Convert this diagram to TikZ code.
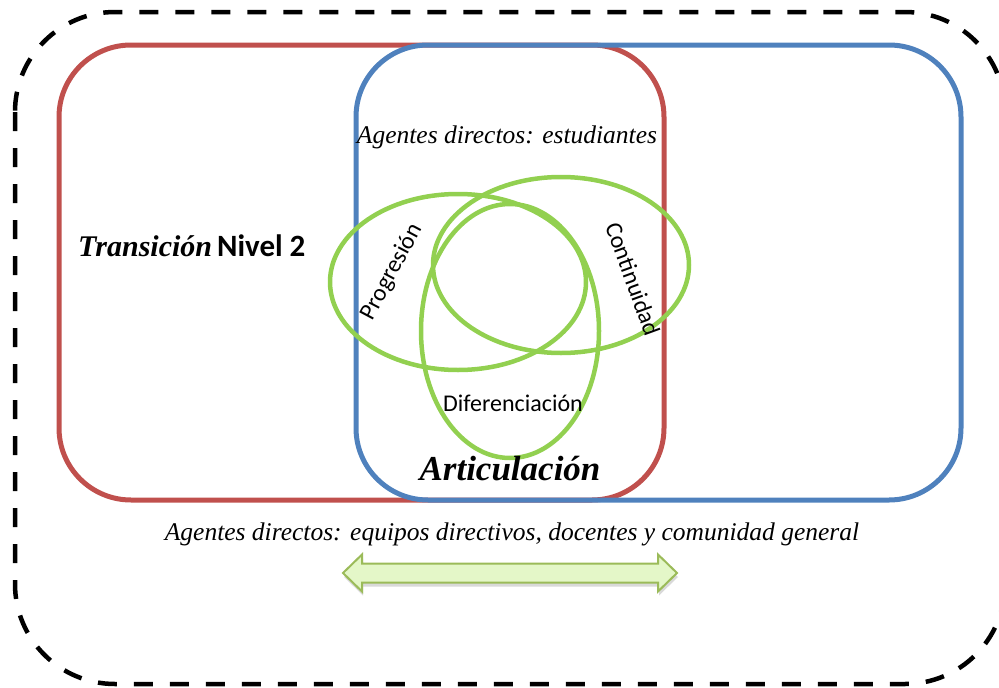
\documentclass[tikz,border=0pt]{standalone}
\usepackage{fontspec}
\setmainfont{Liberation Serif}
\newfontfamily\calib{Carlito}
\usetikzlibrary{shadows}
\definecolor{redbox}{RGB}{192,80,77}
\definecolor{bluebox}{RGB}{79,129,189}
\definecolor{greenring}{RGB}{146,208,80}
\definecolor{arrowborder}{RGB}{155,187,89}
\definecolor{arrowfill}{RGB}{228,247,200}
\tikzset{
  outerbox/.style={draw=black, line width=4.5pt, dash pattern=on 19pt off 17pt, rounded corners=100pt},
  bigbox/.style={line width=5pt, rounded corners=72pt},
  ring/.style={draw=greenring, line width=4.5pt},
  agentlabel/.style={font=\fontsize{25.5}{29}\selectfont\itshape, inner sep=0pt},
  ringlabel/.style={font=\calib\fontsize{24}{28}\selectfont, inner sep=0pt},
  titlelabel/.style={inner sep=0pt, anchor=west},
}
\begin{document}
\begin{tikzpicture}[x=1pt,y=-1pt]
\useasboundingbox (0,0) rectangle (999,688);
% outer dashed frame
\draw[outerbox] (15,12) rectangle (1005,684);
% red and blue boxes
\draw[bigbox, draw=redbox] (59,45) rectangle (664,500);
\draw[bigbox, draw=bluebox] (356,45) rectangle (961,500);
% green rings
\draw[ring] (458,282) ellipse [x radius=128, y radius=88];
\draw[ring] (561,265) ellipse [x radius=128, y radius=88];
\draw[ring] (510,331) ellipse [x radius=89, y radius=127];
% labels
\node[agentlabel] (est) at (507,137) {Agentes directos: estudiantes};
\node[agentlabel] (equ) at (512,534) {Agentes directos: equipos directivos, docentes y comunidad general};
\node[titlelabel] (trans) at (78,246) {{\fontsize{30}{34}\selectfont\bfseries\itshape Transición}\hspace{5pt}{\calib\fontsize{31}{34}\selectfont\bfseries Nivel 2}};
\node[inner sep=0pt, font=\fontsize{35}{40}\selectfont\bfseries\itshape] (art) at (510,469) {Articulación};
\node[ringlabel, rotate=62] (prog) at (392,272) {Progresión};
\node[ringlabel, rotate=-70] (cont) at (633,279) {Continuidad};
\node[ringlabel] (dif) at (513,403) {Diferenciación};
% double block arrow
\coordinate (lt) at (343,573);
\coordinate (rt) at (677,573);
\draw[draw=arrowborder, line width=2pt, fill=arrowfill, line join=miter,
      drop shadow={opacity=0.3, shadow xshift=1pt, shadow yshift=-4pt}]
  (lt) -- (362,554.5) -- (362,563.5) -- (658,563.5) -- (658,554.5) -- (rt)
  -- (658,591.5) -- (658,582.5) -- (362,582.5) -- (362,591.5) -- cycle;
\end{tikzpicture}
\end{document}
